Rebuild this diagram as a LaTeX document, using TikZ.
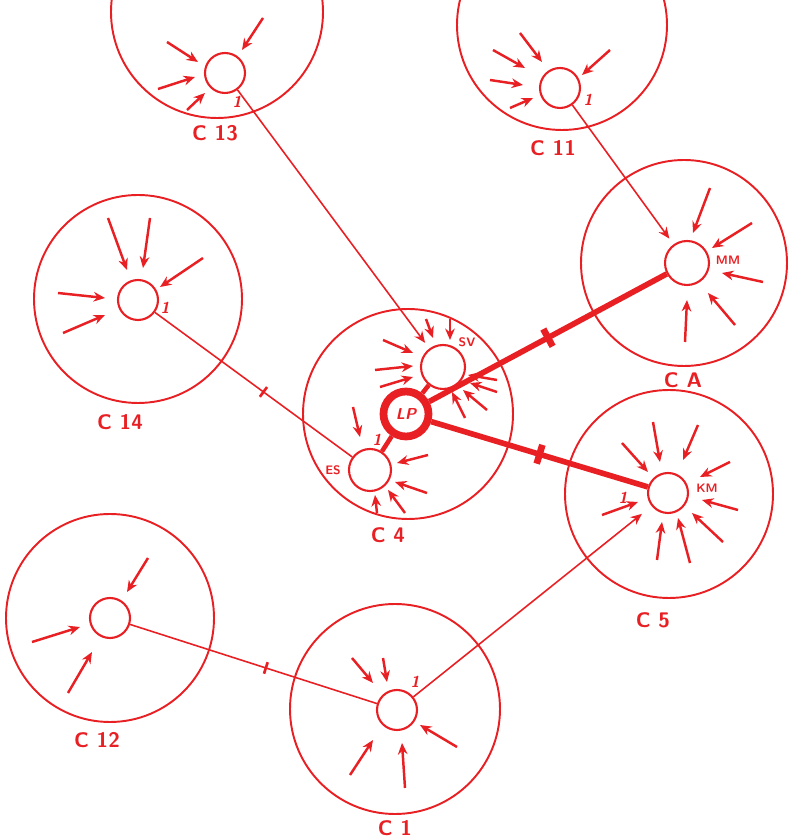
\documentclass[tikz,border=0pt]{standalone}
\usetikzlibrary{arrows.meta}
\definecolor{ink}{RGB}{232,32,36}

\begin{document}
\begin{tikzpicture}[x=0.02cm,y=0.02cm,ink,
    region/.style={draw=ink, line width=1.1pt},
    cell/.style={circle, draw=ink, line width=1.2pt, minimum size=0.8cm, inner sep=0pt},
    feed/.style={line width=1.4pt, -{Stealth[length=6.5pt,width=5.5pt]}},
    link/.style={line width=0.9pt},
    trunk/.style={line width=3.2pt},
    notch/.style={draw=ink, fill=ink, inner sep=0pt, minimum width=0.6pt, minimum height=6pt, sloped},
    cellname/.style={font=\sffamily\bfseries\large},
    subtag/.style={font=\sffamily\bfseries\scriptsize},
    onemark/.style={font=\sffamily\bfseries\small\itshape}]
\useasboundingbox (0,0) rectangle (791,839);
\clip (0,0) rectangle (791,839);

% regions
\draw[region] (217,827) circle (106);
\draw[region] (562,814) circle (105);
\draw[region] (138,540) circle (104);
\draw[region] (684,576) circle (103);
\draw[region] (408,425) circle (105);
\draw[region] (669,345) circle (104);
\draw[region] (110,221) circle (104);
\draw[region] (395,130) circle (105);

% cells
\node[cell] (n13) at (225,766) {};
\node[cell] (n11) at (560,751) {};
\node[cell] (n14) at (138,539) {};
\node[cell, minimum size=0.88cm] (mm) at (687,576) {};
\node[cell, minimum size=0.88cm] (sv) at (443,472) {};
\node[cell, minimum size=0.84cm] (es) at (370,369) {};
\node[cell] (km) at (668,346) {};
\node[cell] (n12) at (110,221) {};
\node[cell] (n1) at (397,129) {};

% incoming arrows
\foreach \sx/\sy/\ex/\ey in {-58/31/-27/11, 38/55/17/23, -67/-16/-30/-4, -38/-37/-20/-20}
  \draw[feed] ([shift={(\sx,\sy)}]n13.center) -- ([shift={(\ex,\ey)}]n13.center);
\foreach \sx/\sy/\ex/\ey in {-67/38/-35/20, -40/55/-18/26, 50/38/22/13, -70/8/-37/3, -50/-20/-27/-10}
  \draw[feed] ([shift={(\sx,\sy)}]n11.center) -- ([shift={(\ex,\ey)}]n11.center);
\foreach \sx/\sy/\ex/\ey in {-30/82/-11/30, 12/82/5/32, 65/42/22/13, -80/7/-33/2, -75/-33/-33/-15}
  \draw[feed] ([shift={(\sx,\sy)}]n14.center) -- ([shift={(\ex,\ey)}]n14.center);
\foreach \sx/\sy/\ex/\ey in {23/75/6/30, 65/40/25/15, 76/-19/35/-10, 48/-62/21/-30, -2/-79/0/-37}
  \draw[feed] ([shift={(\sx,\sy)}]mm.center) -- ([shift={(\ex,\ey)}]mm.center);
\foreach \sx/\sy/\ex/\ey in {-46/50/-20/21, -15/71/-8/31, 30/68/15/33, 62/31/32/16, 70/-17/34/-7,
    55/-49/24/-20, 22/-70/10/-25, -11/-67/-6/-29, -66/-22/-30/-9}
  \draw[feed] ([shift={(\sx,\sy)}]km.center) -- ([shift={(\ex,\ey)}]km.center);
\foreach \sx/\sy/\ex/\ey in {-17/48/-10/29, 7/48/7/27, -60/27/-30/14, -68/-3/-30/1, -63/-20/-30/-10,
    54/-13/25/-8, 54/-25/27/-16, 44/-43/20/-23, 22/-51/9/-25}
  \draw[feed] ([shift={(\sx,\sy)}]sv.center) -- ([shift={(\ex,\ey)}]sv.center);
\foreach \sx/\sy/\ex/\ey in {-17/63/-10/33, 58/15/27/7, 57/-23/25/-12, 35/-43/18/-20, 7/-43/5/-25}
  \draw[feed] ([shift={(\sx,\sy)}]es.center) -- ([shift={(\ex,\ey)}]es.center);
\foreach \sx/\sy/\ex/\ey in {38/60/17/26, -78/-24/-30/-9, -42/-75/-18/-34}
  \draw[feed] ([shift={(\sx,\sy)}]n12.center) -- ([shift={(\ex,\ey)}]n12.center);
\foreach \sx/\sy/\ex/\ey in {-45/52/-24/27, -14/52/-10/28, 60/-37/23/-15, 8/-78/5/-33, -47/-65/-24/-30}
  \draw[feed] ([shift={(\sx,\sy)}]n1.center) -- ([shift={(\ex,\ey)}]n1.center);

% LP and its trunks
\node[cell, line width=4.4pt, minimum size=0.9cm, font=\sffamily\bfseries\small\itshape] (lp) at (406,425) {LP};
\draw[trunk] (lp) -- node[notch, minimum height=8pt, pos=0.5] {} (mm);
\draw[trunk] (lp) -- node[notch, minimum height=8pt, pos=0.5] {} (km);
\draw[trunk, line width=2.6pt] (lp) -- (sv);
\draw[trunk, line width=2.6pt] (lp) -- (es);

% connectors
\draw[link, -{Stealth[length=6.5pt,width=5.5pt]}, shorten >=4pt] (n13) -- (sv);
\draw[link, -{Stealth[length=6.5pt,width=5.5pt]}, shorten >=4pt] (n11) -- (mm);
\draw[link, -{Stealth[length=6.5pt,width=5.5pt]}, shorten >=7pt] (n1) -- (km);
\draw[link] (n14) -- node[notch, pos=0.55] {} (es);
\draw[link] (n12) -- node[notch, pos=0.55] {} (n1);

% labels
\node[cellname] (l13) at (215,706) {C 13};
\node[cellname] (l11) at (553,691) {C 11};
\node[cellname] (l14) at (120,417) {C 14};
\node[cellname] (lca) at (683,459) {C A};
\node[cellname] (l4) at (388,304) {C 4};
\node[cellname] (l5) at (653,219) {C 5};
\node[cellname] (l12) at (97,99) {C 12};
\node[cellname] (l1) at (395,11) {C 1};
\node[subtag] (tsv) at (467,497) {SV};
\node[subtag] (tes) at (333,369) {ES};
\node[subtag] (tmm) at (728,579) {MM};
\node[subtag] (tkm) at (707,351) {KM};
\node[onemark] (o13) at (237,737) {1};
\node[onemark] (o11) at (588,739) {1};
\node[onemark] (o14) at (165,531) {1};
\node[onemark] (oes) at (377,399) {1};
\node[onemark] (okm) at (623,341) {1};
\node[onemark] (o1) at (415,157) {1};
\end{tikzpicture}
\end{document}
